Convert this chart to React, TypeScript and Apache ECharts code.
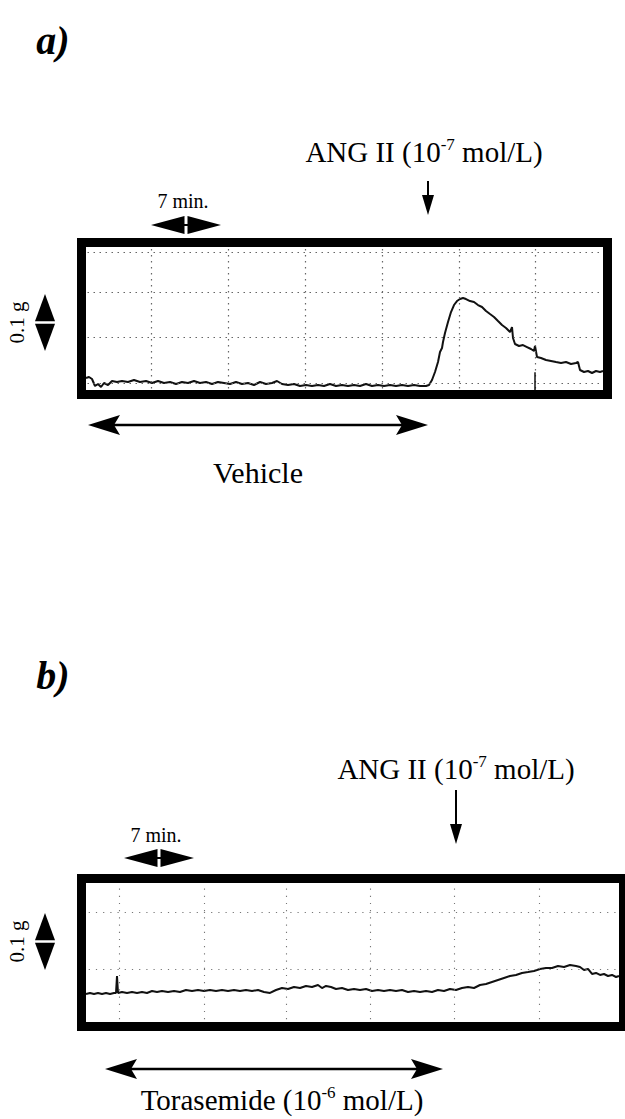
import React, { useEffect, useRef } from "react";
import * as echarts from "echarts";

// ---- Panel a) : vehicle, then ANG II (time in min, force in g) ----
const timeA = [0.45,0.75,1.05,1.35,1.65,1.95,2.25,2.65,3.05,3.55,4.05,4.65,5.25,5.85,6.45,7.05,7.65,8.25,8.85,9.45,10.05,10.65,11.25,11.85,12.45,13.05,13.65,14.25,14.85,15.45,16.05,16.65,17.25,17.85,18.45,19.05,19.55,20.05,20.65,21.25,21.85,22.45,23.05,23.65,24.25,24.85,25.45,26.05,26.65,27.25,27.85,28.45,29.05,29.65,30.25,30.85,31.45,32.05,32.65,33.25,33.85,34.45,34.75,35.05,35.35,35.65,35.85,36.05,36.15,36.35,36.65,36.95,37.25,37.55,37.85,38.15,38.45,38.85,39.25,39.65,40.05,40.45,40.85,41.25,41.65,42.05,42.45,42.85,43.05,43.15,43.35,43.75,44.15,44.55,44.95,45.25,45.35,45.55,45.95,46.45,46.95,47.45,47.95,48.45,48.95,49.45,49.65,49.85,50.25,50.65,51.05,51.45,51.85,52.15];
const forceA = [0.0289,0.0307,0.0272,0.0149,0.0184,0.0132,0.0202,0.0167,0.0237,0.0219,0.0237,0.0219,0.0254,0.0219,0.0237,0.0202,0.0237,0.0202,0.0219,0.0184,0.0219,0.0202,0.0237,0.0202,0.0219,0.0184,0.0219,0.0202,0.0184,0.0219,0.0184,0.0202,0.0167,0.0219,0.0184,0.0202,0.0237,0.0184,0.0167,0.0184,0.0149,0.0167,0.0149,0.0167,0.0149,0.0184,0.0149,0.0167,0.0149,0.0167,0.0149,0.0184,0.0149,0.0167,0.0149,0.0167,0.0149,0.0167,0.0149,0.0167,0.0149,0.0149,0.0167,0.0254,0.0395,0.0570,0.0746,0.0816,0.0921,0.1079,0.1272,0.1447,0.1570,0.1640,0.1675,0.1693,0.1675,0.1640,0.1623,0.1570,0.1535,0.1465,0.1412,0.1360,0.1289,0.1219,0.1167,0.1096,0.1184,0.0991,0.0886,0.0851,0.0868,0.0833,0.0798,0.0763,0.0851,0.0658,0.0640,0.0605,0.0588,0.0570,0.0553,0.0570,0.0535,0.0553,0.0570,0.0430,0.0395,0.0412,0.0377,0.0412,0.0395,0.0412];

// ---- Panel b) : torasemide, then ANG II ----
const timeB = [0.45,0.85,1.25,1.65,2.05,2.45,2.85,3.25,3.45,3.55,3.65,4.05,4.55,5.05,5.55,6.05,6.55,7.05,7.55,8.05,8.65,9.25,9.85,10.45,11.05,11.65,12.25,12.85,13.45,14.05,14.65,15.25,15.85,16.45,17.05,17.65,18.25,18.85,19.45,20.05,20.65,21.25,21.85,22.45,23.05,23.65,24.05,24.45,24.95,25.45,26.05,26.65,27.25,27.85,28.45,29.05,29.65,30.25,30.85,31.45,32.05,32.65,33.25,33.85,34.45,35.05,35.65,36.25,36.85,37.45,38.05,38.65,39.25,39.85,40.45,41.05,41.65,42.25,42.85,43.45,44.05,44.65,45.25,45.85,46.45,47.05,47.65,48.25,48.85,49.45,49.85,50.25,50.65,51.05,51.45,51.85,52.25,52.65,53.05,53.45,53.75];
const forceB = [0.0570,0.0588,0.0570,0.0588,0.0570,0.0588,0.0570,0.0588,0.0588,0.0886,0.0588,0.0605,0.0588,0.0605,0.0588,0.0605,0.0588,0.0623,0.0605,0.0623,0.0605,0.0623,0.0605,0.0640,0.0623,0.0640,0.0623,0.0640,0.0623,0.0640,0.0623,0.0640,0.0623,0.0640,0.0623,0.0640,0.0605,0.0588,0.0640,0.0675,0.0658,0.0693,0.0675,0.0711,0.0693,0.0728,0.0675,0.0711,0.0693,0.0658,0.0675,0.0640,0.0658,0.0640,0.0658,0.0623,0.0640,0.0623,0.0640,0.0623,0.0640,0.0605,0.0623,0.0605,0.0623,0.0605,0.0640,0.0623,0.0658,0.0640,0.0675,0.0693,0.0675,0.0728,0.0746,0.0781,0.0816,0.0851,0.0886,0.0904,0.0939,0.0956,0.0974,0.1009,0.1026,0.1026,0.1061,0.1044,0.1079,0.1061,0.1044,0.0991,0.1009,0.0921,0.0939,0.0904,0.0921,0.0886,0.0904,0.0868,0.0886];

// chart-paper grid lines
const paperTimeA = [7.0, 14.7, 22.4, 30.1, 37.8, 45.4];
const paperForceA = [0.2518, 0.1781, 0.0974, 0.0184];
const paperTimeB = [3.75, 12.3, 20.5, 28.9, 37.3, 45.8];
const paperForceB = [0.199, 0.1026];

// event marker on trace a (time, from force, to force)
const eventMarkA = [45.3, 0.039, 0.0];

// axis extents [time max, force max]
const extentA = [52.6, 0.2667];
const extentB = [54.2, 0.2596];

// annotations
const angTime = [34.65, 37.45];
const vehicleSpan = [0.65, 34.65];
const torasemideSpan = [2.35, 36.15];
const sevenMinA = [6.95, 13.95];
const sevenMinB = [4.25, 11.25];
const scaleGA = [0.0763, 0.1763];
const scaleGB = [0.0991, 0.1991];

const SERIF = "'Liberation Serif', 'Times New Roman', serif";

export default function App() {
  const ref = useRef<HTMLDivElement>(null);
  useEffect(() => {
    const chart = echarts.init(ref.current!, null, { renderer: "svg" });
    const zip = (t: number[], f: number[]) => t.map((v, i) => [v, f[i]]);
    const paper = (xs: number[], ys: number[]) => [
      ...xs.map((v) => ({ xAxis: v })),
      ...ys.map((v) => ({ yAxis: v })),
    ];
    const traceStyle = { color: "#111", width: 2 };
    chart.setOption({
      animation: false,
      backgroundColor: "#fff",
      grid: [
        { left: 81.5, top: 242.5, width: 526, height: 152 },
        { left: 81.5, top: 878.5, width: 542, height: 148 },
      ],
      xAxis: [
        { type: "value", gridIndex: 0, min: 0, max: extentA[0], show: false },
        { type: "value", gridIndex: 1, min: 0, max: extentB[0], show: false },
      ],
      yAxis: [
        { type: "value", gridIndex: 0, min: 0, max: extentA[1], show: false },
        { type: "value", gridIndex: 1, min: 0, max: extentB[1], show: false },
      ],
      series: [
        {
          type: "line",
          xAxisIndex: 0,
          yAxisIndex: 0,
          data: zip(timeA, forceA),
          symbol: "none",
          lineStyle: traceStyle,
          markLine: {
            silent: true,
            symbol: ["none", "none"],
            label: { show: false },
            lineStyle: { color: "#666", type: [1.5, 4.5], width: 1.2 },
            data: [
              ...paper(paperTimeA, paperForceA),
              [
                { coord: [eventMarkA[0], eventMarkA[1]], lineStyle: { color: "#111", type: "solid", width: 1.5 } },
                { coord: [eventMarkA[0], eventMarkA[2]] },
              ],
            ],
          },
        },
        {
          type: "line",
          xAxisIndex: 1,
          yAxisIndex: 1,
          data: zip(timeB, forceB),
          symbol: "none",
          lineStyle: traceStyle,
          markLine: {
            silent: true,
            symbol: ["none", "none"],
            label: { show: false },
            lineStyle: { color: "#777", type: [1.2, 6], width: 1.1 },
            data: paper(paperTimeB, paperForceB),
          },
        },
      ],
    });

    const px = (gi: number, t: number, g: number) =>
      chart.convertToPixel({ gridIndex: gi } as any, [t, g]) as number[];

    const els: any[] = [];
    const poly = (pts: number[][]) =>
      els.push({ type: "polygon", z: 100, shape: { points: pts }, style: { fill: "#000" } });
    const line = (x1: number, y1: number, x2: number, y2: number, w: number) =>
      els.push({ type: "line", z: 100, shape: { x1, y1, x2, y2 }, style: { stroke: "#000", lineWidth: w } });
    const text = (x: number, y: number, t: string, size: number, extra: any = {}, rot = 0) =>
      els.push({
        type: "text",
        z: 100,
        x,
        y,
        rotation: rot,
        style: { text: t, fontSize: size, fontFamily: SERIF, fill: "#000", align: "center", verticalAlign: "middle", ...extra },
      });
    const rich = (x: number, y: number, parts: [string, string, string]) =>
      els.push({
        type: "text",
        z: 100,
        x,
        y,
        style: {
          text: `{n|${parts[0]}}{s|${parts[1]}}{n|${parts[2]}}`,
          align: "center",
          verticalAlign: "middle",
          fill: "#000",
          rich: {
            n: { fontSize: 29, fontFamily: SERIF, lineHeight: 32, fill: "#000" },
            s: { fontSize: 17, fontFamily: SERIF, lineHeight: 22, verticalAlign: "top", fill: "#000" },
          },
        },
      });
    const border = (gi: number, ext: number[]) => {
      const tl = px(gi, 0, ext[1]);
      const br = px(gi, ext[0], 0);
      els.push({
        type: "rect",
        z: 100,
        shape: { x: tl[0], y: tl[1], width: br[0] - tl[0], height: br[1] - tl[1] },
        style: { fill: "none", stroke: "#000", lineWidth: 9 },
      });
    };
    const thinDouble = (x1: number, x2: number, y: number) => {
      line(x1 + 20, y, x2 - 20, y, 2.4);
      poly([[x1, y], [x1 + 32, y - 10], [x1 + 26, y], [x1 + 32, y + 10]]);
      poly([[x2, y], [x2 - 32, y - 10], [x2 - 26, y], [x2 - 32, y + 10]]);
    };
    const timeBar = (x1: number, x2: number, y: number) => {
      const xc = (x1 + x2) / 2;
      line(x1 + 5, y, x2 - 5, y, 2);
      poly([[x1, y], [xc - 1.5, y - 9], [xc - 1.5, y + 9]]);
      poly([[x2, y], [xc + 1.5, y - 9], [xc + 1.5, y + 9]]);
    };
    const forceBar = (x: number, y1: number, y2: number) => {
      const yc = (y1 + y2) / 2;
      poly([[x, y1], [x - 10, yc - 1.2], [x + 10, yc - 1.2]]);
      poly([[x, y2], [x - 10, yc + 1.2], [x + 10, yc + 1.2]]);
    };
    const down = (x: number, y1: number, y2: number) => {
      line(x, y1, x, y2 - 14, 2);
      poly([[x, y2], [x - 6, y2 - 20], [x + 6, y2 - 20]]);
    };

    // ---- panel a ----
    border(0, extentA);
    text(53, 40, "a)", 40, { fontWeight: "bold", fontStyle: "italic" });
    const angAx = px(0, angTime[0], 0)[0];
    rich(angAx - 4, 152, ["ANG II (10", "-7", " mol/L)"]);
    down(angAx, 181, 215);
    const tA1 = px(0, sevenMinA[0], 0)[0];
    const tA2 = px(0, sevenMinA[1], 0)[0];
    text((tA1 + tA2) / 2 - 3, 201, "7 min.", 20);
    timeBar(tA1, tA2, 225);
    const gA1 = px(0, 0, scaleGA[1])[1];
    const gA2 = px(0, 0, scaleGA[0])[1];
    forceBar(45, gA1, gA2);
    text(17, (gA1 + gA2) / 2, "0.1 g", 21, {}, Math.PI / 2);
    const vA1 = px(0, vehicleSpan[0], 0)[0];
    const vA2 = px(0, vehicleSpan[1], 0)[0];
    thinDouble(vA1, vA2, 425);
    text((vA1 + vA2) / 2, 472, "Vehicle", 30);

    // ---- panel b ----
    border(1, extentB);
    text(53, 675, "b)", 40, { fontWeight: "bold", fontStyle: "italic" });
    const angBx = px(1, angTime[1], 0)[0];
    rich(angBx, 769, ["ANG II (10", "-7", " mol/L)"]);
    down(angBx, 790, 844);
    const tB1 = px(1, sevenMinB[0], 0)[0];
    const tB2 = px(1, sevenMinB[1], 0)[0];
    text((tB1 + tB2) / 2 - 3, 835, "7 min.", 20);
    timeBar(tB1, tB2, 858);
    const gB1 = px(1, 0, scaleGB[1])[1];
    const gB2 = px(1, 0, scaleGB[0])[1];
    forceBar(45, gB1, gB2);
    text(17, (gB1 + gB2) / 2, "0.1 g", 21, {}, Math.PI / 2);
    const vB1 = px(1, torasemideSpan[0], 0)[0];
    const vB2 = px(1, torasemideSpan[1], 0)[0];
    thinDouble(vB1, vB2, 1069);
    rich((vB1 + vB2) / 2 + 8, 1100, ["Torasemide (10", "-6", " mol/L)"]);

    chart.setOption({ graphic: { elements: els } });
    return () => chart.dispose();
  }, []);
  return <div ref={ref} style={{ position: "absolute", left: 0, top: 0, width: 625, height: 1119 }} />;
}
